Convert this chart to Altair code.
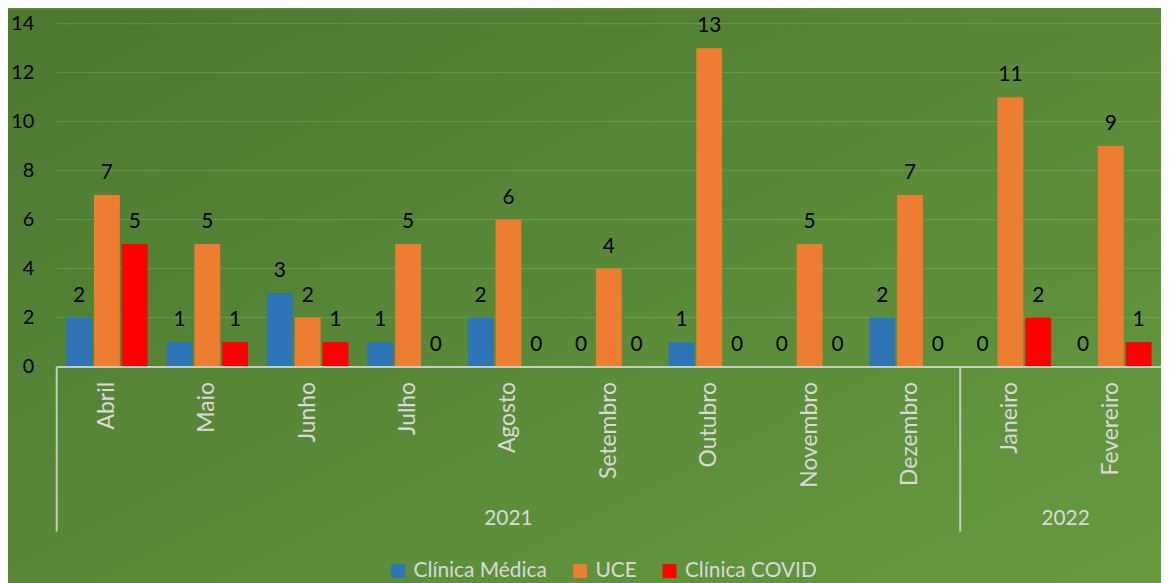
import altair as alt
import pandas as pd

months = ["Abril", "Maio", "Junho", "Julho", "Agosto", "Setembro", "Outubro",
          "Novembro", "Dezembro", "Janeiro", "Fevereiro"]
years = ["2021"] * 9 + ["2022"] * 2
series = ["Clínica Médica", "UCE", "Clínica COVID"]
colors = ["#2e75b6", "#ed7d31", "#ff0000"]
clinica_medica = [2, 1, 3, 1, 2, 0, 1, 0, 2, 0, 0]
uce = [7, 5, 2, 5, 6, 4, 13, 5, 7, 11, 9]
clinica_covid = [5, 1, 1, 0, 0, 0, 0, 0, 0, 2, 1]
y_ticks = [0, 2, 4, 6, 8, 10, 12, 14]

rows = []
for name, vals in zip(series, [clinica_medica, uce, clinica_covid]):
    for m, v in zip(months, vals):
        rows.append({"Mês": m, "Série": name, "Valor": v})
df = pd.DataFrame(rows)

W = 1111
H = 345
FONT = "Lato"
LIGHT = "#d9d9d9"

xscale = alt.Scale(domain=months, paddingInner=0, paddingOuter=0)
yscale = alt.Scale(domain=[0, 14])
offscale = alt.Scale(domain=series, paddingInner=0.07, paddingOuter=0.34)

bg = alt.Chart(pd.DataFrame({"a": [0]})).mark_rect(
    fill=alt.Gradient(gradient="linear", x1=0, y1=0, x2=1, y2=1,
                      stops=[alt.GradientStop(color="#4c7830", offset=0),
                             alt.GradientStop(color="#669b40", offset=1)])
).encode(x=alt.value(-49), x2=alt.value(W + 20), y=alt.value(-14), y2=alt.value(H + 230))

grid = alt.Chart(pd.DataFrame({"t": y_ticks[1:]})).mark_rule(
    color="#ffffff", opacity=0.15, strokeWidth=1
).encode(y=alt.Y("t:Q", scale=yscale), x=alt.value(0), x2=alt.value(W))

bars = alt.Chart(df).mark_bar().encode(
    x=alt.X("Mês:N", scale=xscale, sort=months,
            axis=alt.Axis(title=None, labelAngle=270, labelAlign="right",
                          labelBaseline="middle", labelPadding=15, ticks=False,
                          labelColor=LIGHT, labelFontSize=23, labelFont=FONT,
                          domainColor=LIGHT, domainWidth=2, domainOpacity=0.85,
                          grid=False, zindex=2)),
    xOffset=alt.XOffset("Série:N", scale=offscale, sort=series),
    y=alt.Y("Valor:Q", scale=yscale,
            axis=alt.Axis(title=None, values=y_ticks, grid=False, domain=False,
                          ticks=False, labelPadding=23, labelColor="#000000",
                          labelFontSize=20, labelFont=FONT, zindex=2)),
    color=alt.Color("Série:N", sort=series,
                    scale=alt.Scale(domain=series, range=colors),
                    legend=alt.Legend(title=None, orient="none", legendX=333,
                                      legendY=540, direction="horizontal",
                                      symbolType="square", symbolSize=196,
                                      symbolStrokeWidth=0, symbolOpacity=1,
                                      labelFontSize=21, labelFont=FONT,
                                      labelColor=LIGHT, columnPadding=22,
                                      labelOffset=5, zindex=2)),
)

labels = alt.Chart(df).mark_text(
    baseline="alphabetic", dy=-16, fontSize=21, font=FONT, color="#000000"
).encode(
    x=alt.X("Mês:N", scale=xscale, sort=months),
    xOffset=alt.XOffset("Série:N", scale=offscale, sort=series),
    y=alt.Y("Valor:Q", scale=yscale),
    text=alt.Text("Valor:Q"),
)

year_df = pd.DataFrame({"Ano": ["2021", "2022"], "Mês": ["Agosto", "Fevereiro"]})
year1 = alt.Chart(year_df.iloc[[0]]).mark_text(
    fontSize=21, font=FONT, color=LIGHT, baseline="middle"
).encode(x=alt.X("Mês:N", scale=xscale, bandPosition=0.5), y=alt.value(498), text="Ano:N")
year2 = alt.Chart(year_df.iloc[[1]]).mark_text(
    fontSize=21, font=FONT, color=LIGHT, baseline="middle", dx=5
).encode(x=alt.X("Mês:N", scale=xscale, bandPosition=0), y=alt.value(498), text="Ano:N")

sep = alt.Chart(pd.DataFrame({"Mês": ["Abril", "Janeiro"]})).mark_rule(
    color=LIGHT, strokeWidth=2, opacity=0.85
).encode(x=alt.X("Mês:N", scale=xscale, bandPosition=0), y=alt.value(H), y2=alt.value(H + 166))

chart = alt.layer(bg, grid, bars, labels, sep, year1, year2).properties(
    width=W, height=H,
    autosize=alt.AutoSizeParams(type="none"),
    padding={"left": 49, "top": 14, "right": 0, "bottom": 216},
).configure_view(stroke=None).configure(background="#5a8a38")

chart.save("out.html", embed_options={"renderer": "svg", "actions": False})
